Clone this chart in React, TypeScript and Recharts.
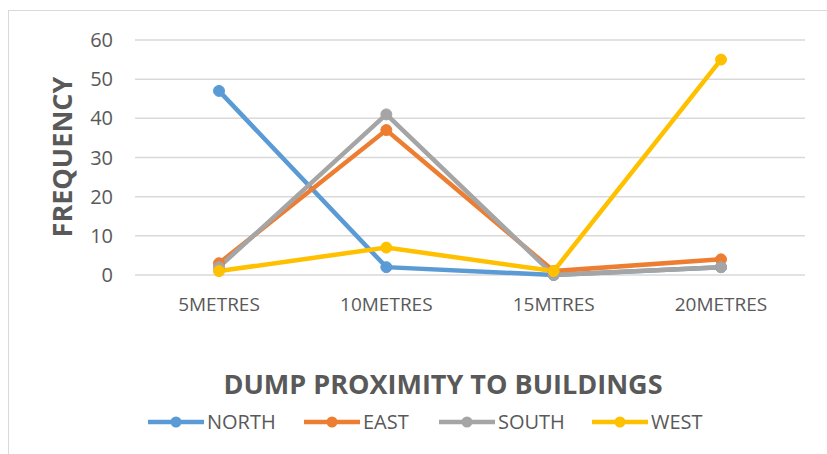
import React from 'react';
import { LineChart, Line, XAxis, YAxis, CartesianGrid } from 'recharts';

const categories = ['5METRES', '10METRES', '15MTRES', '20METRES'];
const north = [47, 2, 0, 2];
const east = [3, 37, 1, 4];
const south = [2, 41, 0, 2];
const west = [1, 7, 1, 55];
const yTicks = [0, 10, 20, 30, 40, 50, 60];

const seriesNames = ['NORTH', 'EAST', 'SOUTH', 'WEST'];
const seriesColors = ['#5B9BD5', '#ED7D31', '#A5A5A5', '#FFC000'];
const seriesKeys = ['north', 'east', 'south', 'west'];

const data = categories.map((c, i) => ({
  name: c,
  north: north[i],
  east: east[i],
  south: south[i],
  west: west[i],
}));

const FONT = '"Open Sans", sans-serif';
const TEXT = '#595959';

const legendPos = [147, 303, 438, 591];

export default function App() {
  return (
    <div style={{ position: 'absolute', left: 0, top: 0, width: 827, height: 454, background: '#fff', overflow: 'hidden', fontFamily: FONT }}>
      <div style={{ position: 'absolute', left: 8, top: 10, width: 900, height: 500, borderLeft: '1px solid #D9D9D9', borderTop: '1px solid #D9D9D9' }} />
      <LineChart
        width={827}
        height={454}
        data={data}
        margin={{ top: 40, right: 22, bottom: 139, left: 75 }}
        style={{ position: 'absolute', left: 0, top: 0 }}
      >
        <CartesianGrid vertical={false} stroke="#D9D9D9" strokeWidth={1.5} />
        <XAxis
          dataKey="name"
          axisLine={false}
          tickLine={false}
          tickSize={0}
          tickMargin={23}
          height={40}
          padding={{ left: 84, right: 84 }}
          tick={{ fill: TEXT, fontSize: 19, fontFamily: FONT }}
          interval={0}
        />
        <YAxis
          domain={[0, 60]}
          ticks={yTicks}
          width={60}
          axisLine={false}
          tickLine={false}
          tickSize={0}
          tickMargin={22}
          tick={{ fill: TEXT, fontSize: 20, fontFamily: FONT }}
        />
        {seriesKeys.map((k, i) => (
          <Line
            key={k}
            dataKey={k}
            name={seriesNames[i]}
            stroke={seriesColors[i]}
            strokeWidth={4.5}
            dot={{ r: 5.5, fill: seriesColors[i], stroke: seriesColors[i], strokeWidth: 1 }}
            isAnimationActive={false}
          />
        ))}
      </LineChart>
      <div style={{ position: 'absolute', left: 0, width: 886, top: 364, textAlign: 'center', fontSize: 27, fontWeight: 700, color: TEXT, whiteSpace: 'nowrap', lineHeight: '40px' }}>
        DUMP PROXIMITY TO BUILDINGS
      </div>
      <div style={{ position: 'absolute', left: 62, top: 157, transform: 'translate(-50%, -50%) rotate(-90deg)', fontSize: 27, fontWeight: 700, color: TEXT, whiteSpace: 'nowrap', lineHeight: '30px' }}>
        FREQUENCY
      </div>
      {seriesNames.map((n, i) => (
        <div key={n} style={{ position: 'absolute', left: legendPos[i], top: 408, height: 28, display: 'flex', alignItems: 'center' }}>
          <svg width={58} height={28} style={{ display: 'block' }}>
            <line x1={1} y1={14} x2={57} y2={14} stroke={seriesColors[i]} strokeWidth={4.5} />
            <circle cx={29} cy={14} r={5.5} fill={seriesColors[i]} />
          </svg>
          <span style={{ fontSize: 20, color: TEXT, marginLeft: 2, lineHeight: '28px' }}>{n}</span>
        </div>
      ))}
    </div>
  );
}
